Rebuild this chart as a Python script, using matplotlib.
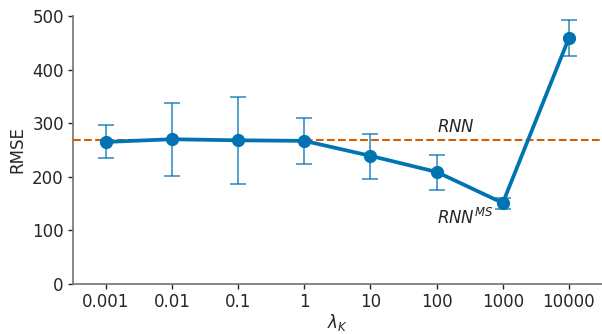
import numpy as np
import matplotlib.pyplot as plt
import seaborn as sns

# lambda_K sweep
lambdas = ['0.001', '0.01', '0.1', '1', '10', '100', '1000', '10000']
rmse = [265, 270, 268, 267, 239, 209, 151, 459]
err_low = [235, 201, 187, 224, 196, 175, 140, 425]
err_high = [297, 338, 349, 310, 280, 241, 160, 493]
rnn_baseline = 269

sns.set_theme(style='ticks', context='notebook')
blue = '#0173b2'
orange = '#d55e00'

fig, ax = plt.subplots(figsize=(6.02, 3.34), dpi=100)
fig.subplots_adjust(left=0.121, right=1.0, bottom=0.15, top=0.952)

x = np.arange(len(lambdas))
yerr = [np.array(rmse) - np.array(err_low), np.array(err_high) - np.array(rmse)]

ax.axhline(rnn_baseline, color=orange, ls='--', lw=1.5, zorder=1)
ax.errorbar(x, rmse, yerr=yerr, fmt='none', ecolor=blue, elinewidth=1.1,
            capsize=6, capthick=1.1, alpha=0.85, zorder=2)
ax.plot(x, rmse, color=blue, lw=2.7, marker='o', ms=8.5, zorder=3)

ax.text(5, 293, '$RNN$', ha='left', va='center', fontsize=12, color='#262626')
ax.text(5, 123, '$RNN^{MS}$', ha='left', va='center', fontsize=12, color='#262626')

ax.set_xticks(x)
ax.set_xticklabels(lambdas)
ax.set_xlim(-0.5, 7.5)
ax.set_ylim(0, 500)
ax.tick_params(length=3.5, width=1, labelsize=12, pad=3)
ax.set_xlabel(r'$\lambda_K$', labelpad=1, fontsize=12)
ax.set_ylabel('RMSE', fontsize=12)
for s in ('left', 'bottom'):
    ax.spines[s].set_color('#777777')
sns.despine(ax=ax)

fig.savefig('out.png', dpi=100)
